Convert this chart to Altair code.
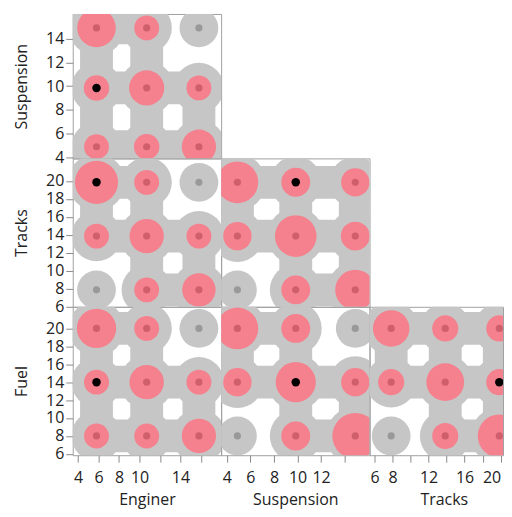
import altair as alt
import pandas as pd

# ---------------- data ----------------
eng_levels = [5.8, 10.7, 15.8]
susp_levels = [4.9, 9.85, 14.9]
track_levels = [7.85, 13.85, 19.85]
fuel_levels = [8, 14, 20]

# cell weights: rows = y level (low -> high), cols = x level (low -> high)
w_eng_susp = [[1.0, 1.05, 1.9], [1.05, 2.0, 1.0], [2.4, 1.0, 0.0]]
w_eng_track = [[0.0, 1.0, 1.8], [1.0, 1.9, 1.0], [3.0, 1.0, 0.0]]
w_eng_fuel = [[1.0, 1.0, 1.9], [1.0, 1.9, 1.0], [2.5, 1.0, 0.0]]
w_susp_track = [[0.0, 1.35, 2.6], [1.3, 2.8, 1.35], [2.8, 1.35, 1.3]]
w_susp_fuel = [[0.0, 1.35, 3.4], [1.3, 2.6, 1.3], [2.8, 1.35, 0.0]]
w_track_fuel = [[0.0, 1.1, 3.0], [1.1, 2.3, 1.1], [2.15, 1.1, 1.1]]

selected = {"Enginer": 5.8, "Suspension": 9.85, "Tracks": 19.85, "Fuel": 14}

eng_ticks = [4, 6, 8, 10, 12, 14, 16]
eng_tick_labels = [4, 6, 8, 10, 14]
susp_ticks = [4, 6, 8, 10, 12, 14]
susp_x_labels = [4, 6, 8, 10, 12]
track_ticks = [6, 8, 10, 12, 14, 16, 18, 20]
track_x_labels = [6, 8, 12, 16, 20]
fuel_ticks = [6, 8, 10, 12, 14, 16, 18, 20]

# ---------------- styling ----------------
GRAY = "#c6c6c6"
PINK = "#f4818d"
DOT_PINK = "#d05f6d"
DOT_GRAY = "#999999"
FONT = "Open Sans"
W = 149
W_LAST = 134

dom = {
    ("Enginer", "x"): [3.48, 17.97],
    ("Suspension", "x"): [3.52, 16.11],
    ("Tracks", "x"): [5.45, 20.26],
    ("Suspension", "y"): [3.92, 16.07],
    ("Tracks", "y"): [5.96, 22.52],
    ("Fuel", "y"): [5.85, 22.41],
}


def panel(xname, yname, xlev, ylev, w, width, height,
          xticks=None, xlabels=None, yticks=None, flush=False):
    pts = []
    for j, yy in enumerate(ylev):
        for i, xx in enumerate(xlev):
            n = w[j][i]
            sel = (xx == selected[xname]) and (yy == selected[yname])
            kind = "sel" if sel else ("on" if n > 0 else "off")
            pts.append(dict(x=xx, y=yy, n=n, kind=kind))
    links = []
    for j in range(3):
        for i in range(3):
            if i < 2 and w[j][i] > 0 and w[j][i + 1] > 0:
                links.append(dict(x=xlev[i], y=ylev[j], x2=xlev[i + 1], y2=ylev[j]))
            if j < 2 and w[j][i] > 0 and w[j + 1][i] > 0:
                links.append(dict(x=xlev[i], y=ylev[j], x2=xlev[i], y2=ylev[j + 1]))
    pdf = pd.DataFrame(pts)
    ldf = pd.DataFrame(links)

    if xticks is not None:
        xkw = dict(
            values=xticks,
            labelExpr="indexof(" + str(xlabels) + ", datum.value) >= 0 ? datum.label : ''",
            title=xname, tickSize=7, labelPadding=7, grid=False, domain=False,
            labelOverlap=False,
            titleX=74.5, titleY=44, titleAlign="center", titleBaseline="middle",
        )
        xkw["labelFlush"] = 4 if flush else False
        xaxis = alt.Axis(**xkw)
    else:
        xaxis = None
    if yticks is not None:
        yaxis = alt.Axis(
            values=yticks, title=yname, tickSize=7, labelPadding=2, grid=False,
            domain=False, labelOverlap=False,
            titleX=-51, titleY=height / 2, titleAngle=270, titleAlign="center",
            titleBaseline="middle",
        )
    else:
        yaxis = None

    xe = alt.X("x:Q", scale=alt.Scale(domain=dom[(xname, "x")], nice=False, zero=False), axis=xaxis)
    ye = alt.Y("y:Q", scale=alt.Scale(domain=dom[(yname, "y")], nice=False, zero=False), axis=yaxis)

    bridges = alt.Chart(ldf).mark_rule(color=GRAY, strokeWidth=33, clip=True).encode(
        x=xe, y=ye, x2="x2:Q", y2="y2:Q")
    halo = alt.Chart(pdf).mark_circle(color=GRAY, opacity=1, clip=True).encode(
        x=xe, y=ye,
        size=alt.Size("n:Q", scale=alt.Scale(type="sqrt", domain=[0, 3], range=[1520, 3300]), legend=None))
    bubbles = alt.Chart(pdf).transform_filter("datum.n > 0").mark_circle(
        color=PINK, opacity=1, clip=True).encode(
        x=xe, y=ye,
        size=alt.Size("n:Q", scale=alt.Scale(type="linear", domain=[0, 3], range=[0, 1875]), legend=None))
    dots = alt.Chart(pdf).transform_filter("datum.kind != 'sel'").mark_circle(
        opacity=1, size=52, clip=True).encode(
        x=xe, y=ye,
        color=alt.Color("kind:N", scale=alt.Scale(domain=["on", "off"], range=[DOT_PINK, DOT_GRAY]), legend=None))
    seldot = alt.Chart(pdf).transform_filter("datum.kind == 'sel'").mark_circle(
        opacity=1, size=72, color="black", clip=True).encode(x=xe, y=ye)

    return alt.layer(bridges, halo, bubbles, dots, seldot).resolve_scale(
        size="independent").properties(width=width, height=height)


def blank(width, height):
    return alt.Chart(pd.DataFrame({"v": [0]})).mark_point(opacity=0).encode(
        x=alt.X("v:Q", axis=None), y=alt.Y("v:Q", axis=None)
    ).properties(width=width, height=height, view=alt.ViewBackground(stroke="transparent"))


p_es = panel("Enginer", "Suspension", eng_levels, susp_levels, w_eng_susp, W, 145,
             yticks=susp_ticks)
p_et = panel("Enginer", "Tracks", eng_levels, track_levels, w_eng_track, W, 149,
             yticks=track_ticks)
p_st = panel("Suspension", "Tracks", susp_levels, track_levels, w_susp_track, W, 149)
p_ef = panel("Enginer", "Fuel", eng_levels, fuel_levels, w_eng_fuel, W, 149,
             xticks=eng_ticks, xlabels=eng_tick_labels, yticks=fuel_ticks)
p_sf = panel("Suspension", "Fuel", susp_levels, fuel_levels, w_susp_fuel, W, 149,
             xticks=susp_ticks, xlabels=susp_x_labels)
p_tf = panel("Tracks", "Fuel", track_levels, fuel_levels, w_track_fuel, W_LAST, 149,
             xticks=track_ticks, xlabels=track_x_labels, flush=True)

cells = [
    p_es, blank(W, 145), blank(W_LAST, 145),
    p_et, p_st, blank(W_LAST, 149),
    p_ef, p_sf, p_tf,
]

chart = alt.concat(*cells, columns=3, spacing=0, bounds="flush", align="each").properties(
    padding={"left": 5, "top": 4, "right": 0, "bottom": 0},
    background="white",
).configure_view(
    stroke="#a0a0a0", strokeWidth=1
).configure_axis(
    labelFont=FONT, labelFontSize=16, labelColor="#222222",
    titleFont=FONT, titleFontSize=16, titleFontWeight="normal", titleColor="#222222",
    tickColor="#8a8a8a", tickWidth=1,
)

chart.save("out.html", embed_options={"renderer": "svg", "actions": False})
